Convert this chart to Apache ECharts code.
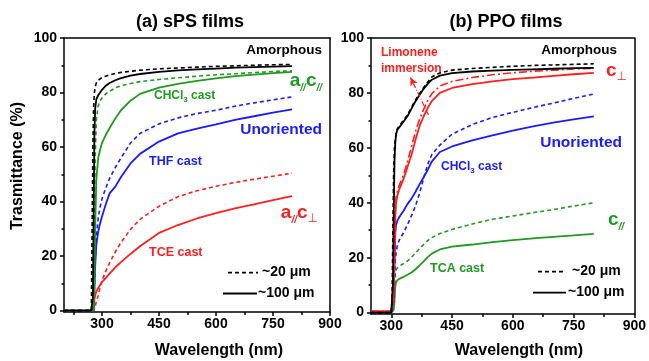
<!DOCTYPE html>
<html><head><meta charset="utf-8">
<script src="https://cdn.jsdelivr.net/npm/echarts@6/dist/echarts.min.js"></script>
<style>html,body{margin:0;padding:0;background:#fff}#c{width:649px;height:361px}</style>
</head><body><div id="c"></div>
<script>
// ---- data: (a) sPS films ----
const spsX = [200,272,274,276,278,280,282,285,290,295,300,310,320,335,350,375,400,450,500,550,600,650,700,750,800];
const spsAmor20   = [0,0,30,60,75,80,82,83.5,84.5,85,85.5,86,86.5,87,87.4,87.8,88.2,88.7,89,89.3,89.6,89.8,90,90.2,90.3];
const spsAmor100  = [0,0,0,5,35,65,74,77.5,79,80,81,82.5,83.5,84.5,85.3,86.2,86.8,87.6,88.1,88.5,88.8,89.1,89.3,89.5,89.7];
const spsCHCl3_20 = [0,0,0,0,5,30,55,70,75,77,78,79.5,80.5,81.7,82.5,83.3,84,84.8,85.4,86,86.5,86.9,87.3,87.7,88];
const spsCHCl3_100= [0,0,0,0,0,10,30,48,56,59,61.5,64.5,67,70.5,73.5,77,79.5,81.8,83.2,84.3,85.2,86,86.6,87.1,87.6];
const spsTHF20    = [0,0,0,0,0,8,18,27,34,38,41,45,48.5,52.5,56,61.5,65,68.5,70.7,72.3,73.5,75,76.2,77.3,78.4];
const spsTHF100   = [0,0,0,0,0,8,16,24,29,32,34.5,39,43,45.5,49,54,57.5,62,65,66.8,68.3,70,71.3,72.6,73.8];
const spsTCE20    = [0,0,0,0,0,0.5,1.5,3.2,5.5,8.5,11,14.5,17.5,21.5,25,29.8,33.5,38.3,41.8,44,45.6,47,48.2,49.3,50.4];
const spsTCE100   = [0,0,0,0,1,4,5.5,7,8.3,9.4,10.4,12,13.6,15.9,17.8,20.8,23.6,28.5,31.4,33.8,35.8,37.5,39,40.5,42];
// ---- data: (b) PPO films ----
const ppoX = [250,300,302,304,306,308,310,312,315,320,330,340,350,360,370,380,390,400,420,450,500,550,600,650,700,750,800];
const ppoAmor100  = [0,0,0,10,35,55,62,65,66.5,67.5,69.5,71.5,74.3,77,79.3,81.5,83.3,84.8,86.3,87.2,87.8,88.1,88.4,88.6,88.8,89,89.1];
const ppoAmor20   = [0,0,5,30,52,60,63,65.5,67,68,70,72,74.8,77.5,79.8,82,84,85.8,87.3,88.3,88.9,89.3,89.7,90,90.2,90.4,90.6];
const ppoCperp100 = [0.5,0.5,0.5,0.5,5,20,35,40,42.5,45,48.5,53,57.5,63,68,71.5,74.5,77,80,81.8,83.2,84.2,85,85.6,86.2,86.8,87.3];
const ppoCperp20  = [0.5,0.5,0.5,0.5,10,28,38,42,44,46.5,50,55,60.5,66,70.5,74,77.3,79.7,82.5,84.2,85.6,86.6,87.3,87.9,88.3,88.7,89];
const ppoCHCl3_100= [0,0,0,0,5,18,29,32,33.5,34.8,37,39.5,41.5,44,46.8,49.3,52,55,58.5,60.5,62.7,64.5,66.3,67.8,69.2,70.4,71.5];
const ppoCHCl3_20 = [0,0,0,0,4,12,19,22,24.5,26.5,29,32,35.3,39,43.5,49,54,57.5,61,65,68.5,71.1,72.9,74.7,76.3,78,79.6];
const ppoTCA100   = [0,0,0,0,1,4,9.5,11,11.8,12.3,13,13.8,14.6,15.8,17.2,18.7,20.2,21.5,23,24,24.8,25.7,26.4,27,27.6,28.1,28.7];
const ppoTCA20    = [0,0,0,0,2,8,14,15.5,16.3,17,17.8,18.8,20.2,21.7,23.3,24.8,26.2,27.3,28.8,30.3,32.3,34,35.2,36.4,37.5,38.8,40];
// limonene arrow (data coords: tail, head)
const arrowTail = [392, 72];
const arrowHead = [347.5, 85.6];
// ---- ticks ----
const xMajor = [300,450,600,750,900];
const xMinorA = [225,375,525,675,825];
const xMinorB = [375,525,675,825];
const yMajor = [0,20,40,60,80,100];
const yMinor = [10,30,50,70,90];

const F = 'Liberation Sans, Arial, sans-serif';
const RED='#ff1e1e', BLUE='#1a1aff', GREEN='#1f9a1f', BLACK='#000';
const pair = (xs, ys) => xs.map((x,i)=>[x, ys[i]]);
const AX = {color:'#000', width:1.5};

function xAxes(g, min){
  return [
    {gridIndex:g,type:'value',min:min,max:900,position:'bottom',
     axisLine:{show:true,onZero:false,lineStyle:AX},
     axisTick:{show:true,customValues:xMajor,length:4,lineStyle:AX},
     axisLabel:{customValues:xMajor,fontFamily:F,fontWeight:'bold',fontSize:14,color:'#000',margin:5},
     splitLine:{show:false}},
    {gridIndex:g,type:'value',min:min,max:900,position:'bottom',
     axisLine:{show:false,onZero:false},
     axisTick:{show:true,customValues:(g===0?xMinorA:xMinorB),length:3,lineStyle:AX},
     axisLabel:{show:false},splitLine:{show:false}},
    {gridIndex:g,type:'value',min:min,max:900,position:'top',
     axisLine:{show:true,onZero:false,lineStyle:AX},axisTick:{show:false},axisLabel:{show:false},splitLine:{show:false}}
  ];
}
function yAxes(g){
  return [
    {gridIndex:g,type:'value',min:-0.5,max:100,position:'left',
     axisLine:{show:true,onZero:false,lineStyle:AX},
     axisTick:{show:true,customValues:yMajor,length:4,lineStyle:AX},
     axisLabel:{customValues:yMajor,fontFamily:F,fontWeight:'bold',fontSize:14,color:'#000',margin:7},
     splitLine:{show:false}},
    {gridIndex:g,type:'value',min:-0.5,max:100,position:'left',
     axisLine:{show:false,onZero:false},
     axisTick:{show:true,customValues:yMinor,length:2.5,lineStyle:AX},
     axisLabel:{show:false},splitLine:{show:false}},
    {gridIndex:g,type:'value',min:-0.5,max:100,position:'right',
     axisLine:{show:true,onZero:false,lineStyle:AX},axisTick:{show:false},axisLabel:{show:false},splitLine:{show:false}}
  ];
}
function ser(g, xs, ys, color, dashed, extra){
  const s = {type:'line',xAxisIndex:g*3,yAxisIndex:g*3,data:pair(xs,ys),showSymbol:false,symbol:'none',
    silent:true,animation:false,
    lineStyle:{color:color,width:dashed?1.6:1.8,type:dashed===true?[4,3]:(dashed||'solid')}};
  return Object.assign(s, extra||{});
}
const series = [
  ser(0,spsX,spsTCE20,RED,true), ser(0,spsX,spsTCE100,RED,false),
  ser(0,spsX,spsTHF20,BLUE,true), ser(0,spsX,spsTHF100,BLUE,false),
  ser(0,spsX,spsCHCl3_20,GREEN,true), ser(0,spsX,spsCHCl3_100,GREEN,false),
  ser(0,spsX,spsAmor20,BLACK,true), ser(0,spsX,spsAmor100,BLACK,false),
  ser(1,ppoX,ppoTCA20,GREEN,true), ser(1,ppoX,ppoTCA100,GREEN,false),
  ser(1,ppoX,ppoCHCl3_20,BLUE,true), ser(1,ppoX,ppoCHCl3_100,BLUE,false),
  ser(1,ppoX,ppoCperp20,RED,[8,3,2,3],{markLine:{silent:true,animation:false,symbol:['none','arrow'],symbolSize:[6,8],
     label:{show:false},lineStyle:{color:RED,width:1.2,type:[5,2,1,2]},
     data:[[{coord:arrowTail},{coord:arrowHead}]]}}),
  ser(1,ppoX,ppoCperp100,RED,false),
  ser(1,ppoX,ppoAmor20,BLACK,true), ser(1,ppoX,ppoAmor100,BLACK,false)
];

function txt(x,y,text,color,size,align,extra){
  return {type:'text',x:x,y:y,silent:true,style:Object.assign({text:text,fill:color,fontFamily:F,fontWeight:'bold',
    fontSize:size,align:align||'left',verticalAlign:'middle'},extra||{})};
}
const subRich = (color, big) => ({
  m:{fontFamily:F,fontWeight:'bold',fontSize:big,color:color,fill:color,verticalAlign:'bottom',padding:[0,0,3,0]},
  s:{fontFamily:F,fontWeight:'bold',fontStyle:'italic',fontSize:10,color:color,fill:color,verticalAlign:'bottom'},
  p:{fontFamily:'DejaVu Sans, sans-serif',fontSize:12,color:color,fill:color,verticalAlign:'bottom'},
  n:{fontFamily:F,fontWeight:'bold',fontSize:12,color:color,fill:color,verticalAlign:'bottom',padding:[0,0,2,0]},
  t:{fontFamily:F,fontWeight:'bold',fontSize:8,color:color,fill:color,verticalAlign:'bottom'}
});
function rich(x,y,text,color,big,align){
  return {type:'text',x:x,y:y,silent:true,style:{text:text,fill:color,align:align||'left',verticalAlign:'middle',rich:subRich(color,big)}};
}
function leg(x1,x2,y,dash){
  return {type:'line',silent:true,shape:{x1:x1,y1:y,x2:x2,y2:y},style:{stroke:'#000',lineWidth:1.8,lineDash:dash?[4,3]:null}};
}
const graphic = [
  txt(190,22,'(a) sPS films','#000',18,'center'),
  txt(506,22,'(b) PPO films','#000',18,'center'),
  {type:'text',x:18,y:166,rotation:Math.PI/2,silent:true,style:{text:'Trasmittance (%)',fill:'#000',fontFamily:F,fontWeight:'bold',fontSize:16,align:'center',verticalAlign:'middle'}},
  txt(219,351,'Wavelength (nm)','#000',16,'center'),
  txt(519,351,'Wavelength (nm)','#000',16,'center'),
  // left annotations
  txt(322,50,'Amorphous',BLACK,13.5,'right'),
  rich(322,82,'{m|a}{s|//}{m|c}{s|//}',GREEN,19,'right'),
  rich(154,97,'{n|CHCl}{t|3}{n| cast}',GREEN,12),
  txt(322,130,'Unoriented',BLUE,15.5,'right'),
  txt(149,162,'THF cast',BLUE,12.5),
  rich(318,214,'{m|a}{s|//}{m|c}{p|⊥}',RED,19,'right'),
  txt(149,253,'TCE cast',RED,12.5),
  leg(228,258,272.7,true), txt(262,272,'~20 μm','#000',14),
  leg(223,257,293.5,false), txt(258,293,'~100 μm','#000',14),
  // right annotations
  txt(381,53,'Limonene',RED,12),
  txt(381,69,'immersion',RED,12),
  txt(617,50,'Amorphous',BLACK,13.5,'right'),
  rich(627,72,'{m|c}{p|⊥}',RED,19,'right'),
  txt(622,143,'Unoriented',BLUE,15.5,'right'),
  rich(441,168,'{n|CHCl}{t|3}{n| cast}',BLUE,12),
  rich(624,221,'{m|c}{s|//}',GREEN,19,'right'),
  txt(430,269,'TCA cast',GREEN,12.5),
  leg(538,566,271.7,true), txt(572,271,'~20 μm','#000',14),
  leg(533,566,292.7,false), txt(568,292,'~100 μm','#000',14)
];

const chart = echarts.init(document.getElementById('c'), null, {renderer:'canvas'});
chart.setOption({
  animation:false,
  backgroundColor:'#fff',
  grid:[{left:64,top:38,width:266,height:274,containLabel:false},{left:371,top:38,width:264,height:276,containLabel:false}],
  xAxis:[...xAxes(0,200),...xAxes(1,250)],
  yAxis:[...yAxes(0),...yAxes(1)],
  series:series,
  graphic:graphic
});
</script></body></html>
